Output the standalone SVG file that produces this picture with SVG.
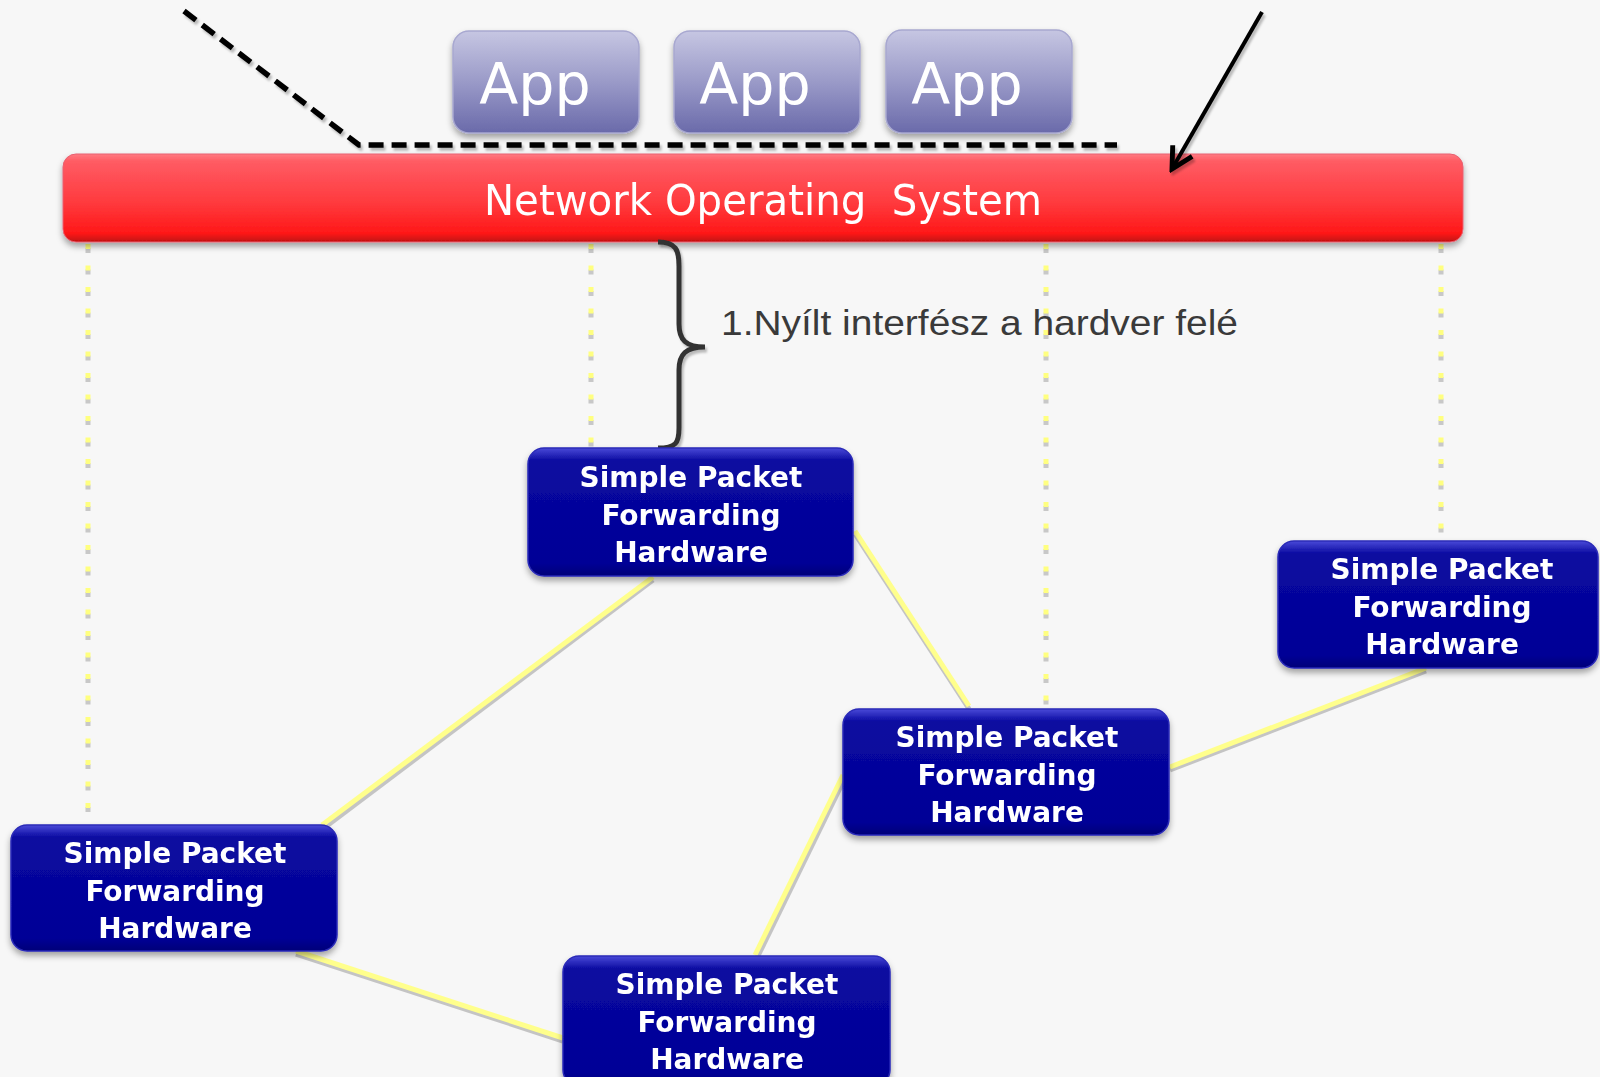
<svg xmlns="http://www.w3.org/2000/svg" width="1600" height="1077" viewBox="0 0 1600 1077">
<style>
.app-text{font-family:"DejaVu Sans","Liberation Sans",sans-serif;font-size:57px;fill:#ffffff;text-anchor:middle}
.nos-text{font-family:"DejaVu Sans","Liberation Sans",sans-serif;font-size:42px;fill:#ffffff;text-anchor:middle}
.hw-text{font-family:"DejaVu Sans","Liberation Sans",sans-serif;font-weight:bold;font-size:28px;fill:#ffffff;text-anchor:middle}
.label{font-family:"Liberation Sans","DejaVu Sans",sans-serif;font-size:35px;fill:#3a3a3a}
.link{stroke:#ffff8c;stroke-width:5;fill:none}
.link-sh{stroke:#c4c4c4;stroke-width:5;fill:none}
.dot{stroke:#ffff80;stroke-width:5;stroke-dasharray:5 16.5;fill:none}
.dot-sh{stroke:#c8c8c8;stroke-width:5;stroke-dasharray:5 16.5;fill:none}
.hw{fill:url(#hwGrad);stroke:#2a2ab8;stroke-width:1.5}
.app{fill:url(#appGrad);stroke:#a8a8d0;stroke-width:1.5}
</style>
<defs>
<linearGradient id="appGrad" x1="0" y1="0" x2="0" y2="1">
<stop offset="0" stop-color="#c6c6e2"/>
<stop offset="0.5" stop-color="#9a9ac8"/>
<stop offset="1" stop-color="#6a6aaa"/>
</linearGradient>
<linearGradient id="nosGrad" x1="0" y1="0" x2="0" y2="1">
<stop offset="0" stop-color="#ff7a82"/>
<stop offset="0.08" stop-color="#ff5c64"/>
<stop offset="0.55" stop-color="#ff3a3e"/>
<stop offset="0.9" stop-color="#ff1818"/>
<stop offset="1" stop-color="#c01010"/>
</linearGradient>
<linearGradient id="hwGrad" x1="0" y1="0" x2="0" y2="1">
<stop offset="0" stop-color="#4a4ad8"/>
<stop offset="0.1" stop-color="#0a0aa0"/>
<stop offset="0.9" stop-color="#000096"/>
<stop offset="1" stop-color="#000078"/>
</linearGradient>
<filter id="shadow" x="-10%" y="-20%" width="120%" height="150%">
<feDropShadow dx="0" dy="4" stdDeviation="3" flood-color="#000" flood-opacity="0.35"/>
</filter>
<filter id="lshadow" x="-10%" y="-10%" width="120%" height="130%">
<feDropShadow dx="2" dy="3" stdDeviation="1" flood-color="#000" flood-opacity="0.25"/>
</filter>
<marker id="arrowHead" viewBox="0 0 20 20" refX="17" refY="10" markerWidth="7" markerHeight="7" orient="auto" markerUnits="strokeWidth">
<path d="M2,2 L17,10 L2,18" fill="none" stroke="#000" stroke-width="3.5"/>
</marker>
</defs>
<rect x="0" y="0" width="1600" height="1077" fill="#f7f7f7"/>

<g id="connectors">
<line class="dot-sh" x1="88" y1="248" x2="88" y2="825"/>
<line class="dot" x1="88" y1="244" x2="88" y2="822"/>
<line class="dot-sh" x1="591" y1="248" x2="591" y2="448"/>
<line class="dot" x1="591" y1="244" x2="591" y2="445"/>
<line class="dot-sh" x1="1046" y1="248" x2="1046" y2="716"/>
<line class="dot" x1="1046" y1="244" x2="1046" y2="713"/>
<line class="dot-sh" x1="1441" y1="248" x2="1441" y2="541"/>
<line class="dot" x1="1441" y1="244" x2="1441" y2="538"/>
<line class="link-sh" x1="653" y1="580" x2="324" y2="828"/>
<line class="link" x1="653" y1="577" x2="322" y2="825"/>
<line class="link-sh" x1="855" y1="534" x2="969" y2="709"/>
<line class="link" x1="855" y1="531" x2="969" y2="706"/>
<line class="link-sh" x1="1170" y1="770" x2="1426" y2="671"/>
<line class="link" x1="1170" y1="767" x2="1426" y2="668"/>
<line class="link-sh" x1="845" y1="778" x2="757" y2="958"/>
<line class="link" x1="843" y1="775" x2="755" y2="955"/>
<line class="link-sh" x1="296" y1="954" x2="563" y2="1041"/>
<line class="link" x1="296" y1="951" x2="563" y2="1038"/>
<path d="M184,11 L359,145 L1117,145" fill="none" stroke="#000" stroke-width="5.5" stroke-dasharray="15 8" filter="url(#lshadow)"/>
</g>

<g id="app1" filter="url(#shadow)">
<rect class="app" x="453" y="31" width="186" height="102" rx="16"/>
<text class="app-text" x="535" y="104">App</text>
</g>
<g id="app2" filter="url(#shadow)">
<rect class="app" x="674" y="31" width="186" height="102" rx="16"/>
<text class="app-text" x="755" y="104">App</text>
</g>
<g id="app3" filter="url(#shadow)">
<rect class="app" x="886" y="30" width="186" height="103" rx="16"/>
<text class="app-text" x="967" y="104">App</text>
</g>

<g id="nos" filter="url(#shadow)">
<rect x="63" y="154" width="1400" height="88" rx="13" fill="url(#nosGrad)" stroke="#e86070" stroke-width="1"/>
<text class="nos-text" x="763" y="215" textLength="558" lengthAdjust="spacingAndGlyphs">Network Operating&#160; System</text>
</g>

<g id="pointer-arrow">
<line x1="1262" y1="12" x2="1172" y2="169" stroke="#000" stroke-width="4" marker-end="url(#arrowHead)" filter="url(#lshadow)"/>
</g>

<g id="brace-label">
<path d="M658,242 C676,242 679,250 679,266 L679,324 C679,340 686,347 705,347 C686,347 679,354 679,370 L679,428 C679,443 676,448 658,448" fill="none" stroke="#333" stroke-width="5" filter="url(#lshadow)"/>
<text class="label" x="721" y="335" textLength="517" lengthAdjust="spacingAndGlyphs">1.Nyílt interfész a hardver felé</text>
</g>

<g id="hw1" filter="url(#shadow)">
<rect class="hw" x="528" y="448" width="325" height="128" rx="16"/>
<text class="hw-text" x="691" y="487">Simple Packet</text>
<text class="hw-text" x="691" y="525">Forwarding</text>
<text class="hw-text" x="691" y="562">Hardware</text>
</g>
<g id="hw2" filter="url(#shadow)">
<rect class="hw" x="11" y="825" width="326" height="126" rx="16"/>
<text class="hw-text" x="175" y="863">Simple Packet</text>
<text class="hw-text" x="175" y="901">Forwarding</text>
<text class="hw-text" x="175" y="938">Hardware</text>
</g>
<g id="hw3" filter="url(#shadow)">
<rect class="hw" x="843" y="709" width="326" height="126" rx="16"/>
<text class="hw-text" x="1007" y="747">Simple Packet</text>
<text class="hw-text" x="1007" y="785">Forwarding</text>
<text class="hw-text" x="1007" y="822">Hardware</text>
</g>
<g id="hw4" filter="url(#shadow)">
<rect class="hw" x="1278" y="541" width="320" height="127" rx="16"/>
<text class="hw-text" x="1442" y="579">Simple Packet</text>
<text class="hw-text" x="1442" y="617">Forwarding</text>
<text class="hw-text" x="1442" y="654">Hardware</text>
</g>
<g id="hw5" filter="url(#shadow)">
<rect class="hw" x="563" y="956" width="327" height="130" rx="16"/>
<text class="hw-text" x="727" y="994">Simple Packet</text>
<text class="hw-text" x="727" y="1032">Forwarding</text>
<text class="hw-text" x="727" y="1069">Hardware</text>
</g>
</svg>
